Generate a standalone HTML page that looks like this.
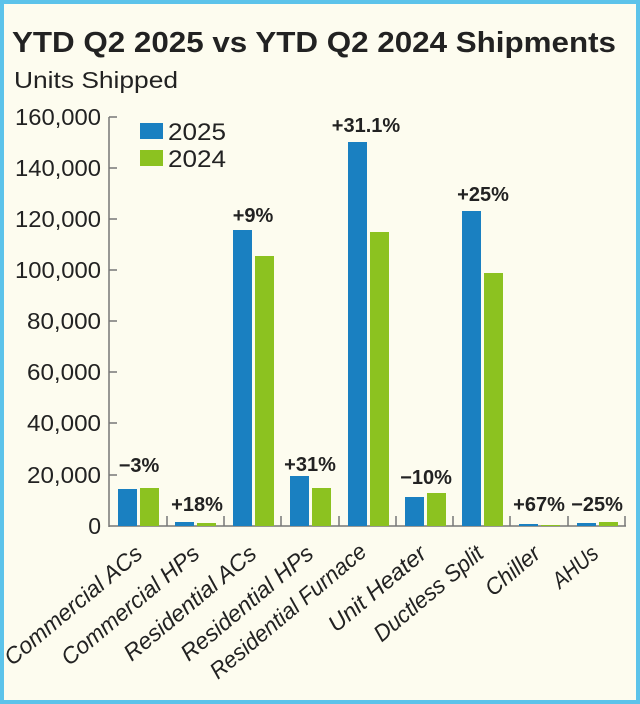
<!DOCTYPE html>
<html><head><meta charset="utf-8"><style>
html,body{margin:0;padding:0;background:#fdfcef;}
svg{display:block;}
text{font-family:"Liberation Sans",sans-serif;fill:#222;}
</style></head><body>
<svg width="640" height="704" viewBox="0 0 640 704" xmlns="http://www.w3.org/2000/svg">
<rect x="0" y="0" width="640" height="704" fill="#fdfcef"/>
<rect x="2" y="2" width="636" height="700" fill="none" stroke="#5cc3ea" stroke-width="4"/>
<text x="12" y="52" font-size="29" font-weight="bold" textLength="604" lengthAdjust="spacingAndGlyphs">YTD Q2 2025 vs YTD Q2 2024 Shipments</text>
<text x="14" y="88" font-size="23" textLength="164" lengthAdjust="spacingAndGlyphs">Units Shipped</text>
<g font-size="23" text-anchor="end">
<text x="101" y="125" textLength="86" lengthAdjust="spacingAndGlyphs">160,000</text>
<text x="101" y="176" textLength="86" lengthAdjust="spacingAndGlyphs">140,000</text>
<text x="101" y="227" textLength="86" lengthAdjust="spacingAndGlyphs">120,000</text>
<text x="101" y="278" textLength="86" lengthAdjust="spacingAndGlyphs">100,000</text>
<text x="101" y="329" textLength="74" lengthAdjust="spacingAndGlyphs">80,000</text>
<text x="101" y="380" textLength="74" lengthAdjust="spacingAndGlyphs">60,000</text>
<text x="101" y="431" textLength="74" lengthAdjust="spacingAndGlyphs">40,000</text>
<text x="101" y="483" textLength="74" lengthAdjust="spacingAndGlyphs">20,000</text>
<text x="101" y="534">0</text>
</g>
<g stroke="#777" stroke-width="1.5">
<line x1="109" y1="117" x2="109" y2="527"/>
<line x1="109" y1="526" x2="626" y2="526"/>
<line x1="109" y1="117" x2="117" y2="117"/>
<line x1="109" y1="168" x2="117" y2="168"/>
<line x1="109" y1="219" x2="117" y2="219"/>
<line x1="109" y1="270" x2="117" y2="270"/>
<line x1="109" y1="321" x2="117" y2="321"/>
<line x1="109" y1="372" x2="117" y2="372"/>
<line x1="109" y1="423" x2="117" y2="423"/>
<line x1="109" y1="475" x2="117" y2="475"/>
<line x1="167" y1="516" x2="167" y2="526"/>
<line x1="224" y1="516" x2="224" y2="526"/>
<line x1="281" y1="516" x2="281" y2="526"/>
<line x1="339" y1="516" x2="339" y2="526"/>
<line x1="396" y1="516" x2="396" y2="526"/>
<line x1="453" y1="516" x2="453" y2="526"/>
<line x1="510" y1="516" x2="510" y2="526"/>
<line x1="568" y1="516" x2="568" y2="526"/>
<line x1="625" y1="516" x2="625" y2="526"/>
</g>
<rect x="140" y="123" width="23" height="16" fill="#1a80c1"/>
<rect x="140" y="150" width="23" height="16" fill="#8cc220"/>
<text x="168" y="140" font-size="24" textLength="58" lengthAdjust="spacingAndGlyphs">2025</text>
<text x="168" y="167" font-size="24" textLength="58" lengthAdjust="spacingAndGlyphs">2024</text>
<g fill="#1a80c1">
<rect x="118" y="489" width="19" height="37"/>
<rect x="175" y="522" width="19" height="4"/>
<rect x="233" y="230" width="19" height="296"/>
<rect x="290" y="476" width="19" height="50"/>
<rect x="348" y="142" width="19" height="384"/>
<rect x="405" y="497" width="19" height="29"/>
<rect x="462" y="211" width="19" height="315"/>
<rect x="519" y="524" width="19" height="2"/>
<rect x="577" y="523" width="19" height="3"/>
</g>
<g fill="#8cc220">
<rect x="140" y="488" width="19" height="38"/>
<rect x="197" y="523" width="19" height="3"/>
<rect x="255" y="256" width="19" height="270"/>
<rect x="312" y="488" width="19" height="38"/>
<rect x="370" y="232" width="19" height="294"/>
<rect x="427" y="493" width="19" height="33"/>
<rect x="484" y="273" width="19" height="253"/>
<rect x="541" y="525" width="19" height="1"/>
<rect x="599" y="522" width="19" height="4"/>
</g>
<g font-size="20" font-weight="bold" text-anchor="middle">
<text x="139" y="472">−3%</text>
<text x="197" y="511">+18%</text>
<text x="253" y="222">+9%</text>
<text x="310" y="471">+31%</text>
<text x="366" y="132">+31.1%</text>
<text x="426" y="484">−10%</text>
<text x="483" y="201">+25%</text>
<text x="539" y="511">+67%</text>
<text x="597" y="511">−25%</text>
</g>
<g font-size="23" font-style="italic" text-anchor="end">
<text transform="translate(144,556) rotate(-40)" textLength="172" lengthAdjust="spacingAndGlyphs">Commercial ACs</text>
<text transform="translate(201,556) rotate(-40)" textLength="172" lengthAdjust="spacingAndGlyphs">Commercial HPs</text>
<text transform="translate(258,556) rotate(-40)" textLength="165" lengthAdjust="spacingAndGlyphs">Residential ACs</text>
<text transform="translate(315,556) rotate(-40)" textLength="165" lengthAdjust="spacingAndGlyphs">Residential HPs</text>
<text transform="translate(368,554) rotate(-40)" textLength="196" lengthAdjust="spacingAndGlyphs">Residential Furnace</text>
<text transform="translate(428,556) rotate(-40)" textLength="120" lengthAdjust="spacingAndGlyphs">Unit Heater</text>
<text transform="translate(485,556) rotate(-40)" textLength="135" lengthAdjust="spacingAndGlyphs">Ductless Split</text>
<text transform="translate(542,556) rotate(-40)" textLength="64" lengthAdjust="spacingAndGlyphs">Chiller</text>
<text transform="translate(600,556) rotate(-40)" textLength="52" lengthAdjust="spacingAndGlyphs">AHUs</text>
</g>
</svg>
</body></html>
